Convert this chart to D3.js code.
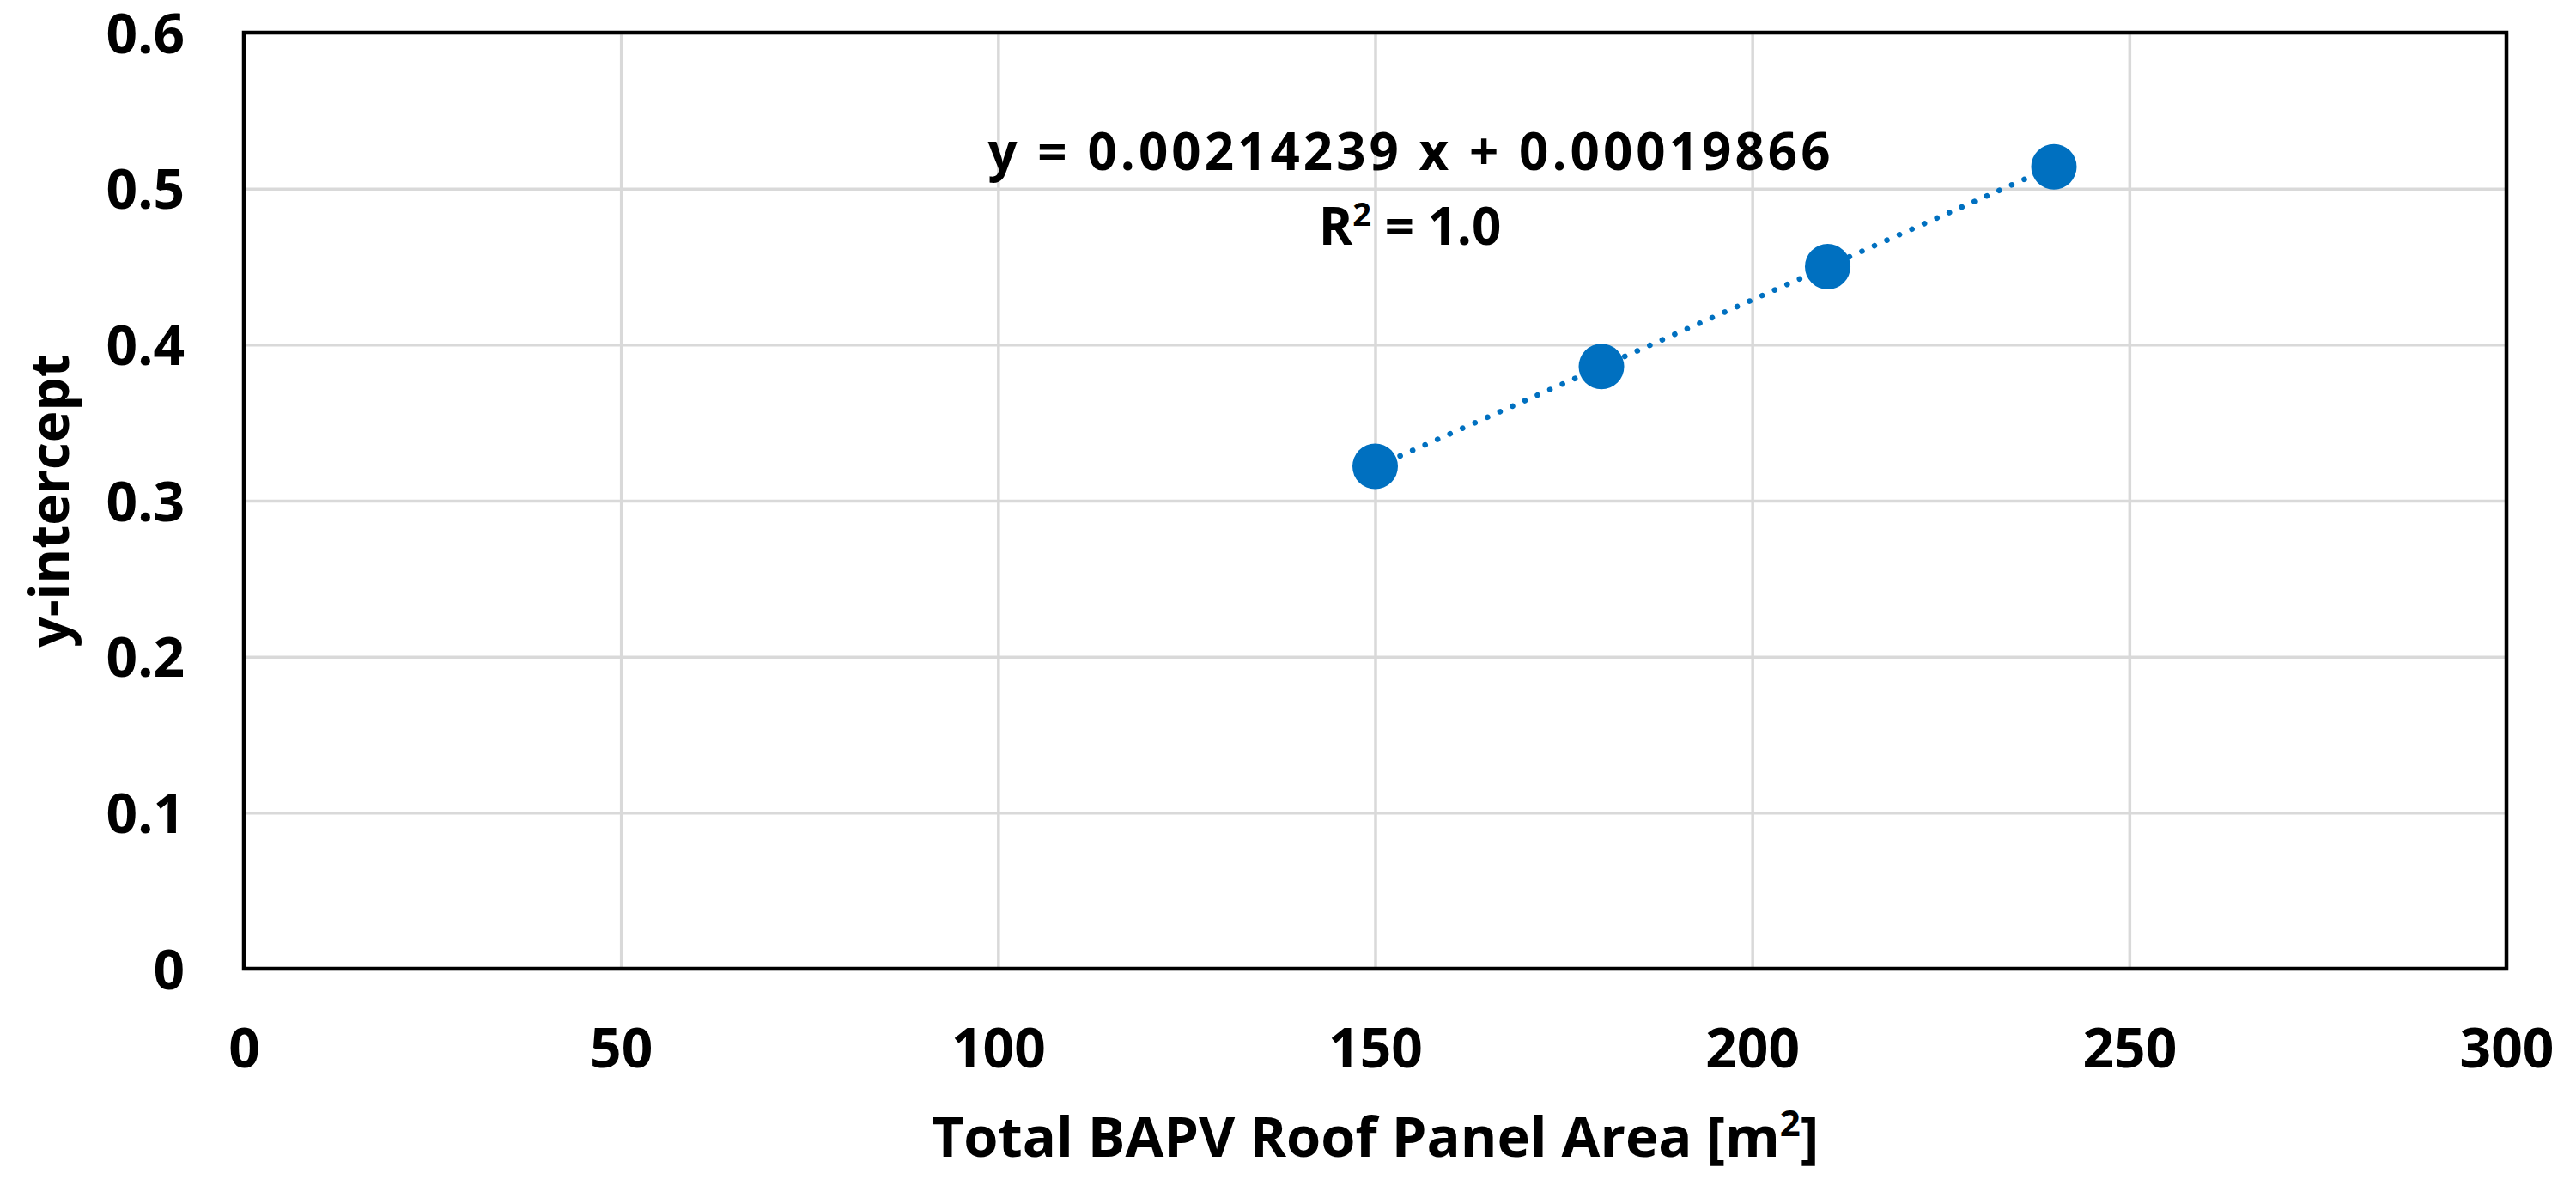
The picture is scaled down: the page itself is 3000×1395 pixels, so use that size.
<!DOCTYPE html>
<html>
<head>
<meta charset="utf-8">
<script src="https://cdn.jsdelivr.net/npm/d3@7"></script>
<style>
  html, body { margin: 0; padding: 0; background: #fff; }
  text { font-family: "Open Sans", "Noto Sans", sans-serif; font-weight: 700; fill: #000; }
</style>
</head>
<body>
<svg id="chart" width="3000" height="1395"></svg>
<script>
// ---- data ----
const areas = [150, 180, 210, 240];
const intercepts = [0.322, 0.386, 0.450, 0.514];
const xTicks = [0, 50, 100, 150, 200, 250, 300];
const yTicks = [0, 0.1, 0.2, 0.3, 0.4, 0.5, 0.6];
const trendCoef = [0.00214239, 0.00019866]; // slope, intercept
const equationText = ["y = 0.00214239 x + 0.00019866"];
const r2Text = ["1.0"];
const xTitle = "Total BAPV Roof Panel Area [m";
const yTitle = "y-intercept";

// ---- layout ----
const W = 3000, H = 1395;
const m = { left: 284, right: 3000 - 2919, top: 38, bottom: 1395 - 1128 };
const svg = d3.select("#chart");
const blue = "#0070C0";

const x = d3.scaleLinear().domain([0, 300]).range([m.left, W - m.right]);
const y = d3.scaleLinear().domain([0, 0.6]).range([H - m.bottom, m.top]);

// gridlines
svg.append("g")
  .attr("transform", `translate(0,${H - m.bottom})`)
  .call(d3.axisBottom(x).tickValues(xTicks).tickSize(-(H - m.top - m.bottom)).tickFormat(""))
  .call(g => g.select(".domain").remove())
  .call(g => g.selectAll("line").attr("stroke", "#D9D9D9").attr("stroke-width", 3.5));
svg.append("g")
  .attr("transform", `translate(${m.left},0)`)
  .call(d3.axisLeft(y).tickValues(yTicks).tickSize(-(W - m.left - m.right)).tickFormat(""))
  .call(g => g.select(".domain").remove())
  .call(g => g.selectAll("line").attr("stroke", "#D9D9D9").attr("stroke-width", 3.5));

// frame
svg.append("rect")
  .attr("x", m.left).attr("y", m.top)
  .attr("width", W - m.left - m.right).attr("height", H - m.top - m.bottom)
  .attr("fill", "none").attr("stroke", "#000").attr("stroke-width", 4.5);

// tick labels
svg.append("g")
  .attr("transform", `translate(0,${H - m.bottom})`)
  .call(d3.axisBottom(x).tickValues(xTicks).tickSize(0).tickPadding(0).tickFormat(d3.format("d")))
  .call(g => g.select(".domain").remove())
  .call(g => g.selectAll("text")
    .attr("y", 115).attr("dy", null)
    .attr("font-size", 64)
    .attr("font-family", '"Open Sans", sans-serif')
    .attr("font-weight", 700)
    .attr("fill", "#000"));
svg.append("g")
  .attr("transform", `translate(${m.left},0)`)
  .call(d3.axisLeft(y).tickValues(yTicks).tickSize(0).tickPadding(0).tickFormat(d => d === 0 ? "0" : d3.format(".1f")(d)))
  .call(g => g.select(".domain").remove())
  .call(g => g.selectAll("text")
    .attr("x", -69).attr("dy", null).attr("y", 23)
    .attr("font-size", 64)
    .attr("font-family", '"Open Sans", sans-serif')
    .attr("font-weight", 700)
    .attr("fill", "#000"));

// axis titles
const xt = svg.append("text")
  .attr("x", (m.left + W - m.right) / 2)
  .attr("y", 1347)
  .attr("text-anchor", "middle")
  .attr("font-size", 65);
xt.append("tspan").text(xTitle);
xt.append("tspan").attr("font-size", 42).attr("dy", -24).text("2");
xt.append("tspan").attr("dy", 24).text("]");

svg.append("text")
  .attr("transform", `translate(80,${(m.top + H - m.bottom) / 2}) rotate(-90)`)
  .attr("text-anchor", "middle")
  .attr("font-size", 62)
  .text(yTitle);

// trendline (dotted)
const trend = d3.extent(areas).map(a => [a, trendCoef[0] * a + trendCoef[1]]);
svg.append("path")
  .datum(trend)
  .attr("d", d3.line().x(d => x(d[0])).y(d => y(d[1])))
  .attr("fill", "none")
  .attr("stroke", blue)
  .attr("stroke-width", 6.5)
  .attr("stroke-linecap", "round")
  .attr("stroke-dasharray", "0.1,15.8");

// markers
svg.append("g").selectAll("circle")
  .data(areas.map((a, i) => [a, intercepts[i]]))
  .join("circle")
  .attr("cx", d => x(d[0]))
  .attr("cy", d => y(d[1]))
  .attr("r", 26.5)
  .attr("fill", blue);

// equation labels
svg.append("text")
  .attr("x", 1641).attr("y", 198)
  .attr("text-anchor", "middle")
  .attr("font-size", 60)
  .attr("textLength", 981)
  .attr("lengthAdjust", "spacing")
  .text(equationText[0]);

const r2 = svg.append("text")
  .attr("x", 1642).attr("y", 285)
  .attr("text-anchor", "middle")
  .attr("font-size", 60);
r2.append("tspan").text("R");
r2.append("tspan").attr("font-size", 38).attr("dy", -22).text("2");
r2.append("tspan").attr("dy", 22).text(" = " + r2Text[0]);
</script>
</body>
</html>
